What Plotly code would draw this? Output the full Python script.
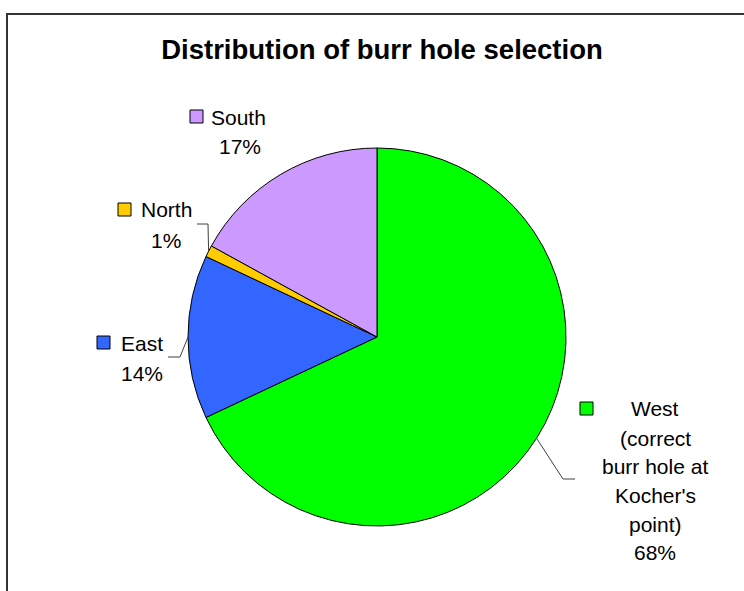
import math
import plotly.graph_objects as go

# Slice data (clockwise from 12 o'clock)
categories = ["West", "East", "North", "South"]
values = [68, 14, 1, 17]
colors = ["#00FF00", "#3366FF", "#FFCC00", "#CC99FF"]
label_lines = [
    ["West", "(correct", "burr hole at", "Kocher's", "point)", "68%"],
    ["East", "14%"],
    ["North", "1%"],
    ["South", "17%"],
]

W, H = 744, 591
CX, CY, R = 377, 337, 189
FONT = "Liberation Sans, Arial, sans-serif"
LABEL_SIZE = 21


def px(x):
    return x / W


def py(y):
    return 1 - y / H


fig = go.Figure(go.Pie(
    labels=categories,
    values=values,
    marker=dict(colors=colors, line=dict(color="black", width=1)),
    sort=False,
    direction="clockwise",
    rotation=0,
    textinfo="none",
    hoverinfo="label+percent",
    showlegend=False,
    domain=dict(x=[px(CX - R), px(CX + R)], y=[py(CY + R), py(CY - R)]),
))

shapes = []
annotations = []

# Outer chart frame
shapes.append(dict(type="rect", xref="paper", yref="paper",
                   x0=px(7), x1=px(760), y0=py(14), y1=py(620),
                   line=dict(color="#333333", width=2), fillcolor="rgba(0,0,0,0)",
                   layer="below"))

# Label layout: key square position, text placement and the leader elbow / end points
layout_spec = {
    "West": dict(key=(580, 402), text_x=655,
                 lines_y=[408, 438, 466, 495, 524, 552], elbow=(563, 479), end=(575, 479)),
    "East": dict(key=(97, 336), text_x=119, first_y=343,
                 second=(142, 373), elbow=(180, 357), end=(168, 357)),
    "North": dict(key=(118, 203), text_x=139, first_y=209,
                  second=(166, 240), elbow=(208, 224), end=(197, 224)),
    "South": dict(key=(190, 110), text_x=209, first_y=117,
                  second=(240, 146)),
}

total = sum(values)
cum = 0
for name, val, col, lines in zip(categories, values, colors, label_lines):
    mid = (cum + val / 2) / total * 2 * math.pi
    cum += val
    spec = layout_spec[name]

    # key square
    kx, ky = spec["key"]
    shapes.append(dict(type="rect", xref="paper", yref="paper",
                       x0=px(kx), x1=px(kx + 13), y0=py(ky + 13), y1=py(ky),
                       line=dict(color="black", width=1), fillcolor=col))

    # text lines
    if name == "West":
        for t, yy in zip(lines, spec["lines_y"]):
            annotations.append(dict(x=px(spec["text_x"]), y=py(yy), xref="paper", yref="paper",
                                    text=t, showarrow=False, xanchor="center", yanchor="middle",
                                    font=dict(family=FONT, size=LABEL_SIZE, color="black")))
    else:
        annotations.append(dict(x=px(spec["text_x"]), y=py(spec["first_y"]), xref="paper", yref="paper",
                                text=lines[0], showarrow=False, xanchor="left", yanchor="middle",
                                font=dict(family=FONT, size=LABEL_SIZE, color="black")))
        sx, sy = spec["second"]
        annotations.append(dict(x=px(sx), y=py(sy), xref="paper", yref="paper",
                                text=lines[1], showarrow=False, xanchor="center", yanchor="middle",
                                font=dict(family=FONT, size=LABEL_SIZE, color="black")))

    # leader line from slice edge to label
    if "elbow" in spec:
        ax = CX + R * math.sin(mid)
        ay = CY - R * math.cos(mid)
        ex, ey = spec["elbow"]
        fx, fy = spec["end"]
        path = f"M {px(ax)},{py(ay)} L {px(ex)},{py(ey)} L {px(fx)},{py(fy)}"
        shapes.append(dict(type="path", xref="paper", yref="paper", path=path,
                           line=dict(color="#404040", width=1)))

fig.update_layout(
    width=W, height=H,
    margin=dict(l=0, r=0, t=0, b=0),
    paper_bgcolor="white",
    plot_bgcolor="white",
    title=dict(text="<b>Distribution of burr hole selection</b>",
               x=px(382), y=py(49), xanchor="center", yanchor="middle",
               font=dict(family=FONT, size=27.5, color="black")),
    shapes=shapes,
    annotations=annotations,
)

fig.write_html("out.html")
